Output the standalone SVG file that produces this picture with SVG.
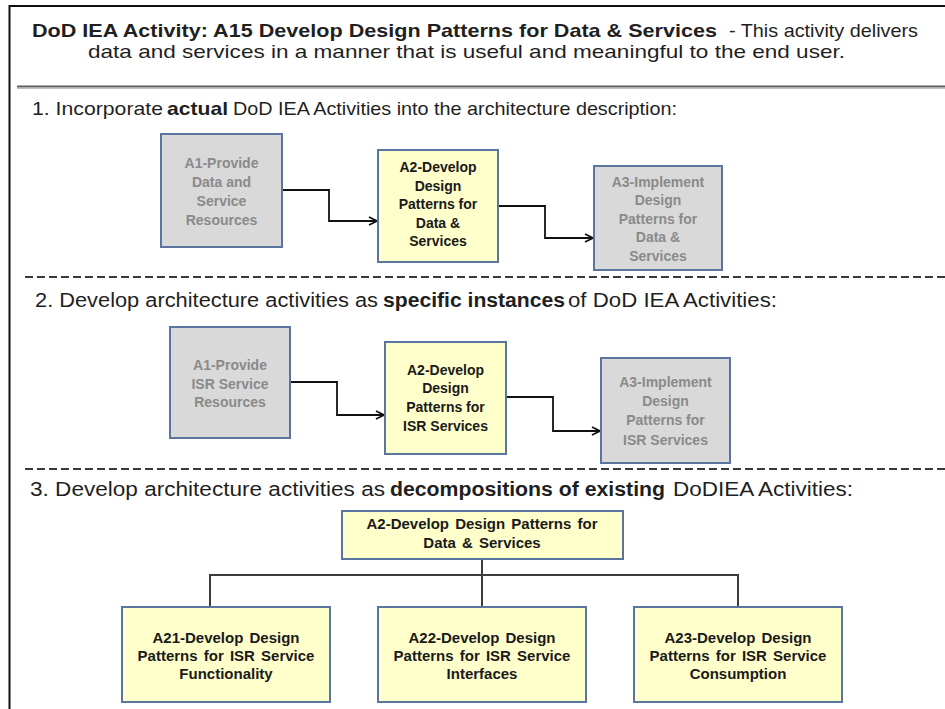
<svg xmlns="http://www.w3.org/2000/svg" width="945" height="709" viewBox="0 0 945 709">
<defs>
<style>
.t{font-family:"Liberation Sans",Arial,sans-serif;fill:#1f1f1f}
.b{font-weight:bold}
.box-g{fill:#d9d9d9;stroke:#5a76a0;stroke-width:2}
.box-y{fill:#ffffcc;stroke:#5a76a0;stroke-width:2}
.lg{font-family:"Liberation Sans",Arial,sans-serif;font-weight:bold;font-size:14px;fill:#8a8a8a;text-anchor:middle}
.ly{font-family:"Liberation Sans",Arial,sans-serif;font-weight:bold;font-size:14px;fill:#1a1a1a;text-anchor:middle}
.ly3{font-family:"Liberation Sans",Arial,sans-serif;font-weight:bold;font-size:15px;fill:#1a1a1a;text-anchor:middle;word-spacing:2px}
.dash{stroke:#3a3a3a;stroke-width:2;stroke-dasharray:8 4;fill:none}
.arr{stroke:#111;stroke-width:1.8;fill:none;marker-end:url(#ah)}
.tree{stroke:#3c3c3c;stroke-width:2;fill:none}
</style>
<marker id="ah" viewBox="0 0 10 10" refX="9" refY="5" markerWidth="10" markerHeight="10" markerUnits="userSpaceOnUse" orient="auto">
<path d="M1,1 L9,5 L1,9" fill="none" stroke="#111" stroke-width="1.8"/>
</marker>
</defs>
<rect x="0" y="0" width="945" height="709" fill="#ffffff"/>
<rect x="9.5" y="6" width="950" height="720" fill="none" stroke="#111" stroke-width="2"/>

<g id="title">
<text class="t b" x="32" y="37" font-size="19" textLength="685" lengthAdjust="spacingAndGlyphs">DoD IEA Activity: A15 Develop Design Patterns for Data &amp; Services</text>
<text class="t" x="729" y="37" font-size="19" textLength="189" lengthAdjust="spacingAndGlyphs">- This activity delivers</text>
<text class="t" x="88" y="58" font-size="19" textLength="757" lengthAdjust="spacingAndGlyphs">data and services in a manner that is useful and meaningful to the end user.</text>
</g>
<g id="separators">
<line x1="17" y1="86.5" x2="945" y2="86.5" stroke="#5e5e5e" stroke-width="2"/>
<line x1="17" y1="88.5" x2="945" y2="88.5" stroke="#bdbdbd" stroke-width="1"/>
<line class="dash" x1="25" y1="277" x2="945" y2="277"/>
<line class="dash" x1="25" y1="469" x2="945" y2="469"/>
</g>

<g id="heading1">
<text class="t" x="32" y="115" font-size="19" textLength="131" lengthAdjust="spacingAndGlyphs">1. Incorporate</text>
<text class="t b" x="167" y="115" font-size="19" textLength="61" lengthAdjust="spacingAndGlyphs">actual</text>
<text class="t" x="233" y="115" font-size="19" textLength="444" lengthAdjust="spacingAndGlyphs">DoD IEA Activities into the architecture description:</text>
</g>
<g id="heading2">
<text class="t" x="35" y="307" font-size="20" textLength="343" lengthAdjust="spacingAndGlyphs">2. Develop architecture activities as</text>
<text class="t b" x="383" y="307" font-size="20" textLength="182" lengthAdjust="spacingAndGlyphs">specific instances</text>
<text class="t" x="568" y="307" font-size="20" textLength="209" lengthAdjust="spacingAndGlyphs">of DoD IEA Activities:</text>
</g>
<g id="heading3">
<text class="t" x="30" y="496" font-size="20" textLength="355" lengthAdjust="spacingAndGlyphs">3. Develop architecture activities as</text>
<text class="t b" x="390" y="496" font-size="20" textLength="275" lengthAdjust="spacingAndGlyphs">decompositions of existing</text>
<text class="t" x="673" y="496" font-size="20" textLength="180" lengthAdjust="spacingAndGlyphs">DoDIEA Activities:</text>
</g>

<g id="connectors">
<path class="arr" d="M282,190 H329 V221 H377"/>
<path class="arr" d="M498,206 H545 V238 H593"/>
<path class="arr" d="M290,382 H337 V415 H384"/>
<path class="arr" d="M506,397 H553 V431 H600"/>
<path class="tree" d="M482,559 V607 M210,607 V575 H738 V607"/>
</g>

<g id="s1-a1">
<rect class="box-g" x="161" y="134" width="121" height="113"/>
<text class="lg" x="221.5" y="168">A1-Provide</text>
<text class="lg" x="221.5" y="187">Data and</text>
<text class="lg" x="221.5" y="206">Service</text>
<text class="lg" x="221.5" y="225">Resources</text>
</g>
<g id="s1-a2">
<rect class="box-y" x="378" y="150" width="120" height="112"/>
<text class="ly" x="438" y="172">A2-Develop</text>
<text class="ly" x="438" y="190.5">Design</text>
<text class="ly" x="438" y="209">Patterns for</text>
<text class="ly" x="438" y="227.5">Data &amp;</text>
<text class="ly" x="438" y="246">Services</text>
</g>
<g id="s1-a3">
<rect class="box-g" x="594" y="166" width="128" height="104"/>
<text class="lg" x="658" y="187">A3-Implement</text>
<text class="lg" x="658" y="205">Design</text>
<text class="lg" x="658" y="223.5">Patterns for</text>
<text class="lg" x="658" y="242">Data &amp;</text>
<text class="lg" x="658" y="261">Services</text>
</g>

<g id="s2-a1">
<rect class="box-g" x="170" y="327" width="120" height="111"/>
<text class="lg" x="230" y="370">A1-Provide</text>
<text class="lg" x="230" y="388.5">ISR Service</text>
<text class="lg" x="230" y="407">Resources</text>
</g>
<g id="s2-a2">
<rect class="box-y" x="385" y="342" width="121" height="112"/>
<text class="ly" x="445.5" y="375">A2-Develop</text>
<text class="ly" x="445.5" y="393">Design</text>
<text class="ly" x="445.5" y="412">Patterns for</text>
<text class="ly" x="445.5" y="431">ISR Services</text>
</g>
<g id="s2-a3">
<rect class="box-g" x="601" y="358" width="129" height="105"/>
<text class="lg" x="665.5" y="387">A3-Implement</text>
<text class="lg" x="665.5" y="406">Design</text>
<text class="lg" x="665.5" y="425">Patterns for</text>
<text class="lg" x="665.5" y="445">ISR Services</text>
</g>

<g id="s3-a2">
<rect class="box-y" x="342" y="511" width="281" height="48"/>
<text class="ly3" x="482" y="529">A2-Develop Design Patterns for</text>
<text class="ly3" x="482" y="547.5">Data &amp; Services</text>
</g>
<g id="s3-a21">
<rect class="box-y" x="122" y="607" width="208" height="95"/>
<text class="ly3" x="226" y="642.5">A21-Develop Design</text>
<text class="ly3" x="226" y="660.5">Patterns for ISR Service</text>
<text class="ly3" x="226" y="678.5">Functionality</text>
</g>
<g id="s3-a22">
<rect class="box-y" x="378" y="607" width="208" height="95"/>
<text class="ly3" x="482" y="642.5">A22-Develop Design</text>
<text class="ly3" x="482" y="660.5">Patterns for ISR Service</text>
<text class="ly3" x="482" y="678.5">Interfaces</text>
</g>
<g id="s3-a23">
<rect class="box-y" x="634" y="607" width="208" height="95"/>
<text class="ly3" x="738" y="642.5">A23-Develop Design</text>
<text class="ly3" x="738" y="660.5">Patterns for ISR Service</text>
<text class="ly3" x="738" y="678.5">Consumption</text>
</g>
</svg>
